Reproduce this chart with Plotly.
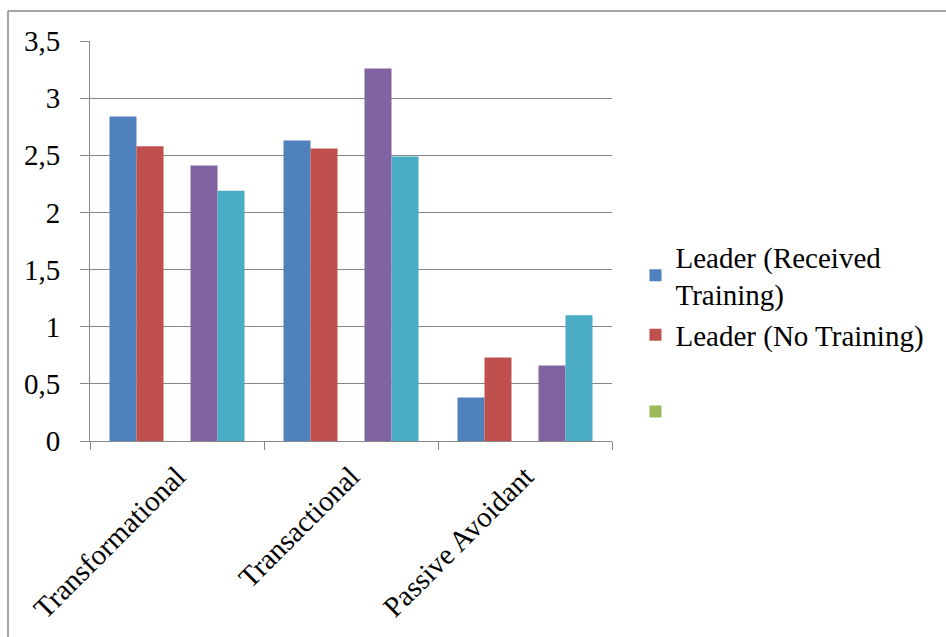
import plotly.graph_objects as go

categories = ["Transformational", "Transactional", "Passive Avoidant"]
leader_trained = [2.84, 2.63, 0.38]
leader_untrained = [2.58, 2.56, 0.73]
series_empty = [None, None, None]
series_purple = [2.41, 3.26, 0.66]
series_cyan = [2.19, 2.49, 1.10]
y_ticks = [0, 0.5, 1, 1.5, 2, 2.5, 3, 3.5]

FONT = "Liberation Serif, Times New Roman, serif"
FS = 29

fig = go.Figure()
fig.add_trace(go.Bar(x=categories, y=leader_trained, name="Leader (Received<br>Training)",
                     legendgroup="a", marker=dict(color="#4F81BD", line=dict(width=0))))
fig.add_trace(go.Bar(x=categories, y=leader_untrained, name="Leader (No Training)",
                     legendgroup="a", marker=dict(color="#C0504D", line=dict(width=0))))
fig.add_trace(go.Bar(x=categories, y=series_empty, name=" ",
                     legendgroup="b", marker=dict(color="#9BBB59", line=dict(width=0))))
fig.add_trace(go.Bar(x=categories, y=series_purple, name="s4", showlegend=False,
                     marker=dict(color="#8064A2", line=dict(width=0))))
fig.add_trace(go.Bar(x=categories, y=series_cyan, name="s5", showlegend=False,
                     marker=dict(color="#4BACC6", line=dict(width=0))))

fig.update_layout(
    width=946, height=637,
    barmode="group", bargap=0.224, bargroupgap=0,
    separators=", ",
    paper_bgcolor="white", plot_bgcolor="white",
    margin=dict(l=90, r=334, t=41, b=196),
    font=dict(family=FONT, size=FS, color="black"),
    legend=dict(x=1.045, y=(441-231)/400, xanchor="left", yanchor="top",
                font=dict(family=FONT, size=FS, color="black"),
                itemsizing="constant", tracegroupgap=36,
                bgcolor="rgba(0,0,0,0)"),
    xaxis=dict(showline=True, linecolor="#878787", linewidth=1,
               ticks="outside", tickson="boundaries", ticklen=8, tickcolor="#878787",
               tickangle=-45, showgrid=False, ticklabelstandoff=6,
               tickfont=dict(family=FONT, size=FS, color="black")),
    yaxis=dict(range=[0, 3.5], tickvals=y_ticks, showline=True, linecolor="#878787", linewidth=1,
               ticks="outside", ticklen=9, tickcolor="#878787", ticklabelstandoff=14,
               showgrid=True, gridcolor="#878787", gridwidth=1, zeroline=False,
               tickfont=dict(family=FONT, size=FS, color="black")),
    shapes=[
        dict(type="line", xref="paper", yref="paper", x0=-82/522, x1=(946-90)/522,
             y0=(441-11)/400, y1=(441-11)/400, line=dict(color="#878787", width=1.5)),
        dict(type="line", xref="paper", yref="paper", x0=-82/522, x1=-82/522,
             y0=(441-11)/400, y1=(441-640)/400, line=dict(color="#878787", width=1.5)),
    ],
)

fig.write_html("out.html")
